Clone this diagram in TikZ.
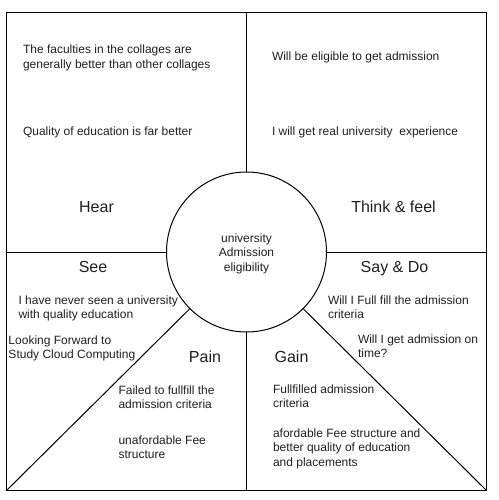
\documentclass[tikz,border=0pt]{standalone}
\usepackage{fontspec}
\setmainfont{Liberation Sans}
\begin{document}
\begin{tikzpicture}[x=1pt,y=-1pt,
  every node/.style={inner sep=0pt, outer sep=0pt, text=black!88},
  body/.style={anchor=base west, align=left, font=\fontsize{12}{14.4}\selectfont},
  head/.style={anchor=base, font=\fontsize{16}{19}\selectfont},
  divider/.style={draw=black, line width=1pt},
]
\useasboundingbox (0,0) rectangle (498,500);

% frame and central circle
\node[draw, line width=1pt, anchor=north west, minimum width=480pt, minimum height=478pt] (frame) at (6.5,12.5) {};
\node[draw, line width=1pt, circle, minimum size=160pt, fill=white] (core) at (246.5,252) {};
\node[align=center, font=\fontsize{12}{14.4}\selectfont] (coretext) at (246.5,253.5) {university\\Admission\\eligibility};

% quadrant dividers
\draw[divider] (core.north) -- (core.north |- frame.north);
\draw[divider] (core.south) -- (core.south |- frame.south);
\draw[divider] (core.west) -- (core.west -| frame.west);
\draw[divider] (core.east) -- (core.east -| frame.east);
\draw[divider] (core.-135) -- (frame.south west);
\draw[divider] (core.-45) -- (frame.south east);

% headings
\node[head] (hear) at (96.5,212.5) {Hear};
\node[head] (think) at (393.5,212.5) {Think \& feel};
\node[head] (see) at (93,272.5) {See};
\node[head] (say) at (394.5,272.5) {Say \& Do};
\node[head] (pain) at (205,362.5) {Pain};
\node[head] (gain) at (291.5,362.5) {Gain};

% Hear (base anchor sits on the last line of each block)
\node[body] (h1) at (23,68.4) {The faculties in the collages are\\generally better than other collages};
\node[body] (h2) at (23,135.5) {Quality of education is far better};

% Think & feel
\node[body] (t1) at (272,61) {Will be eligible to get admission};
\node[body] (t2) at (272,135.5) {I will get real university\ \ experience};

% See
\node[body] (s1) at (18.5,318.4) {I have never seen a university\\with quality education};
\node[body] (s2) at (8.5,358.4) {Looking Forward to\\Study Cloud Computing};

% Say & Do
\node[body] (d1) at (328,318.4) {Will I Full fill the admission\\criteria};
\node[body] (d2) at (358,357.9) {Will I get admission on\\time?};

% Pain
\node[body] (p1) at (118.5,408.4) {Failed to fullfill the\\admission criteria};
\node[body] (p2) at (118.5,458.4) {unafordable Fee\\structure};

% Gain
\node[body] (g1) at (273,407.9) {Fullfilled admission\\criteria};
\node[body] (g2) at (273,466.3) {afordable Fee structure and\\better quality of education\\and placements};
\end{tikzpicture}
\end{document}
